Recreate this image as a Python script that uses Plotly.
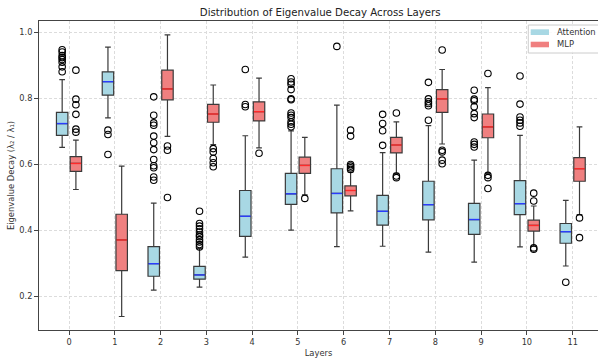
import plotly.graph_objects as go

layers = list(range(12))
tick_labels = [str(i) for i in layers]
series_names = ["Attention", "MLP"]

# Attention box stats
att_lo = [0.652, 0.741, 0.219, 0.228, 0.319, 0.401, 0.351, 0.352, 0.334, 0.304, 0.350, 0.292]
att_q1 = [0.688, 0.810, 0.261, 0.252, 0.382, 0.479, 0.453, 0.416, 0.432, 0.388, 0.448, 0.361]
att_med = [0.724, 0.851, 0.299, 0.265, 0.443, 0.511, 0.512, 0.458, 0.478, 0.433, 0.481, 0.396]
att_q3 = [0.758, 0.881, 0.351, 0.291, 0.521, 0.573, 0.587, 0.506, 0.549, 0.482, 0.551, 0.421]
att_hi = [0.857, 0.956, 0.483, 0.345, 0.687, 0.702, 0.780, 0.636, 0.718, 0.613, 0.688, 0.491]
att_out = [
    [0.948, 0.941, 0.930, 0.924, 0.918, 0.910, 0.896, 0.881],
    [0.704, 0.691, 0.630],
    [0.805, 0.749, 0.726, 0.719, 0.686, 0.666, 0.645, 0.615, 0.596, 0.590, 0.562, 0.552],
    [0.458, 0.421, 0.413, 0.405, 0.395, 0.386, 0.381, 0.372, 0.365, 0.357, 0.350],
    [0.888, 0.782, 0.775],
    [0.860, 0.850, 0.843, 0.827, 0.799, 0.796, 0.756, 0.749, 0.742, 0.729, 0.722, 0.714],
    [0.958],
    [0.752, 0.724, 0.702, 0.658],
    [0.849, 0.799, 0.790, 0.785, 0.778, 0.734],
    [0.825, 0.798, 0.793, 0.775, 0.754, 0.742, 0.668, 0.661, 0.653],
    [0.868, 0.783, 0.744, 0.734, 0.726, 0.716],
    [0.243],
]

# MLP box stats
mlp_lo = [0.524, 0.139, 0.685, 0.660, 0.650, 0.508, 0.459, 0.573, 0.662, 0.572, 0.352, 0.448]
mlp_q1 = [0.579, 0.278, 0.796, 0.728, 0.732, 0.573, 0.505, 0.635, 0.758, 0.681, 0.398, 0.549]
mlp_med = [0.603, 0.371, 0.829, 0.753, 0.760, 0.597, 0.521, 0.659, 0.799, 0.714, 0.415, 0.587]
mlp_q3 = [0.624, 0.449, 0.886, 0.782, 0.790, 0.622, 0.535, 0.682, 0.827, 0.753, 0.431, 0.621]
mlp_hi = [0.674, 0.595, 0.993, 0.841, 0.862, 0.682, 0.577, 0.729, 0.888, 0.833, 0.474, 0.714]
mlp_out = [
    [0.886, 0.798, 0.781, 0.752, 0.707, 0.698],
    [],
    [0.656, 0.643, 0.500],
    [0.648, 0.638, 0.618, 0.605, 0.593],
    [0.634],
    [0.497],
    [0.704, 0.686, 0.600, 0.595, 0.590, 0.585],
    [0.756, 0.565, 0.560],
    [0.947, 0.643, 0.638, 0.613, 0.602],
    [0.876, 0.567, 0.560, 0.527],
    [0.513, 0.489, 0.347, 0.343],
    [0.438, 0.378],
]

OFFSET = 0.15
BOXW = 0.25
att_pos = [l - OFFSET for l in layers]
mlp_pos = [l + OFFSET for l in layers]

ATT_FILL = "rgb(168,216,228)"
MLP_FILL = "rgb(240,128,128)"

fig = go.Figure()

def add_series(name, pos, lo, q1, med, q3, hi, outs, fill, medcolor):
    fig.add_trace(go.Box(
        x=pos, q1=q1, median=med, q3=q3, lowerfence=lo, upperfence=hi,
        width=BOXW, whiskerwidth=0.5, fillcolor=fill,
        line=dict(color="#3a3a3a", width=1.2), boxpoints=False,
        name=name, showlegend=False, hoverinfo="skip",
    ))
    mx, my = [], []
    for p, m in zip(pos, med):
        mx += [p - BOXW / 2 + 0.01, p + BOXW / 2 - 0.01, None]
        my += [m, m, None]
    fig.add_trace(go.Scatter(x=mx, y=my, mode="lines",
                             line=dict(color=medcolor, width=1.4),
                             showlegend=False, hoverinfo="skip"))
    ox, oy = [], []
    for p, vals in zip(pos, outs):
        for v in vals:
            ox.append(p)
            oy.append(v)
    fig.add_trace(go.Scatter(x=ox, y=oy, mode="markers",
                             marker=dict(symbol="circle-open", size=6.5, color="black",
                                         line=dict(width=1.1, color="black")),
                             showlegend=False, hoverinfo="skip"))

add_series(series_names[0], att_pos, att_lo, att_q1, att_med, att_q3, att_hi, att_out,
           ATT_FILL, "#2a3cff")
add_series(series_names[1], mlp_pos, mlp_lo, mlp_q1, mlp_med, mlp_q3, mlp_hi, mlp_out,
           MLP_FILL, "#ff2a2a")

# Custom legend (matplotlib-style): frame, swatches, labels in paper coords
shapes = [
    dict(type="rect", xref="paper", yref="paper", x0=0.8753, x1=1.03, y0=0.8964, y1=0.987,
         line=dict(color="#cccccc", width=1), fillcolor="rgba(255,255,255,0.85)", layer="above"),
]
annotations = []
sw_rows = [(0.9547, 0.9731, 0.9638), (0.9149, 0.9330, 0.9240)]
for (y0, y1, yc), nm, col in zip(sw_rows, series_names, [ATT_FILL, MLP_FILL]):
    shapes.append(dict(type="rect", xref="paper", yref="paper", x0=0.8796, x1=0.9123,
                       y0=y0, y1=y1, line=dict(width=0), fillcolor=col, layer="above"))
    annotations.append(dict(text=nm, xref="paper", yref="paper", x=0.9236, y=yc,
                            xanchor="left", yanchor="middle", showarrow=False,
                            font=dict(size=8.4, color="#333333")))

fig.update_layout(
    width=598, height=358,
    margin=dict(l=39, r=0, t=21, b=28),
    paper_bgcolor="white", plot_bgcolor="white",
    font=dict(family="DejaVu Sans", size=8.2, color="#333333"),
    title=dict(text="Distribution of Eigenvalue Decay Across Layers",
               x=0.503, xref="paper", xanchor="center",
               y=1 - 12 / 358, yref="container", yanchor="middle",
               font=dict(size=10.2, color="#222222")),
    showlegend=False,
    shapes=shapes,
    annotations=annotations,
)

fig.update_xaxes(
    range=[-0.656, 11.554], tickvals=layers, ticktext=tick_labels,
    showgrid=True, gridcolor="#dcdcdc", griddash="3px,2px", gridwidth=0.8,
    showline=True, linecolor="#444444", linewidth=1, mirror=True,
    ticks="outside", ticklen=4, tickcolor="#444444",
    zeroline=False, automargin=False,
    title=dict(text="Layers", font=dict(size=8.4), standoff=4),
)
fig.update_yaxes(
    range=[0.098, 1.035], tickvals=[0.2, 0.4, 0.6, 0.8, 1.0],
    ticktext=["0.2", "0.4", "0.6", "0.8", "1.0"],
    showgrid=True, gridcolor="#dcdcdc", griddash="3px,2px", gridwidth=0.8,
    showline=True, linecolor="#444444", linewidth=1,
    ticks="outside", ticklen=4, tickcolor="#444444",
    zeroline=False, automargin=False,
    title=dict(text="Eigenvalue Decay (λ₂ / λ₁)", font=dict(size=8.4), standoff=3),
)

fig.write_html("out.html", config={"displayModeBar": False},
               post_script="document.body.style.margin='0';document.body.style.padding='0';")
